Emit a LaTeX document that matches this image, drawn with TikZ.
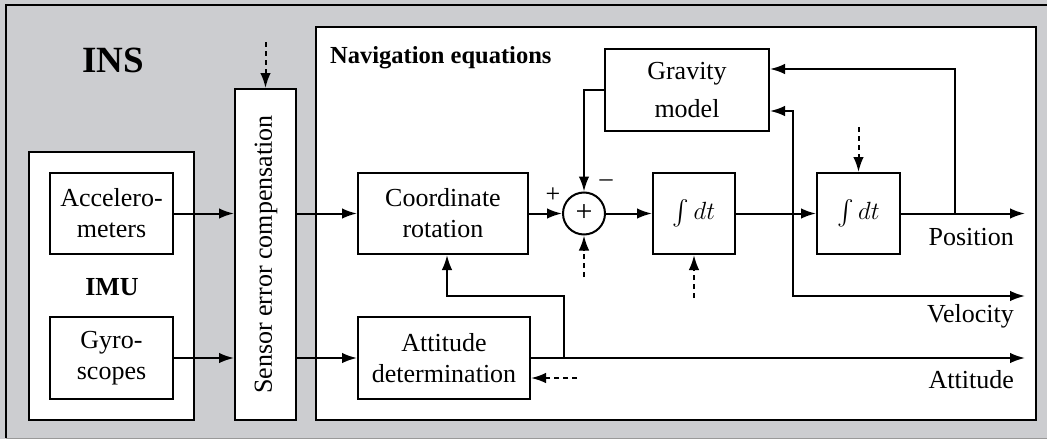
\documentclass[tikz,border=0pt]{standalone}
\usepackage{amsmath}
\usepackage{fontspec}
\setmainfont{Liberation Serif}
\usetikzlibrary{arrows.meta,calc}
\definecolor{insgray}{RGB}{204,205,208}
\tikzset{
  blk/.style={draw, line width=2pt, fill=white, inner sep=0pt, align=center,
    font=\fontsize{26}{31}\selectfont},
  arr/.style={line width=2pt, -{Latex[length=15pt,width=10.5pt]}},
  darr/.style={line width=2pt, dash pattern=on 5pt off 4pt, -{Latex[length=15pt,width=10.5pt]}},
  lbl/.style={inner sep=0pt, font=\fontsize{26}{31}\selectfont},
}
\begin{document}
\begin{tikzpicture}[x=1pt,y=-1pt]
\useasboundingbox (0,0) rectangle (1047,439);
% INS background
\fill[insgray] (0,0) rectangle (1047,439);
\draw[line width=2pt] (1060,5) -- (6,5) -- (6,438);
\draw[line width=0.8pt, black!40] (6,438.5) -- (1060,438.5);
\node[inner sep=0pt, font=\fontsize{37}{40}\selectfont\bfseries] (ins) at (113,60) {INS};
% IMU
\node[draw, line width=2pt, fill=white, minimum width=165pt, minimum height=268pt, inner sep=0pt] (imu) at (111.5,286) {};
\node[inner sep=0pt, font=\fontsize{26}{31}\selectfont\bfseries] (imul) at (112,287) {IMU};
\node[blk, minimum width=123pt, minimum height=81pt] (acc) at (111.5,213.5) {Accelero-\\meters};
\node[blk, minimum width=123pt, minimum height=82pt] (gyr) at (111.5,358) {Gyro-\\scopes};
% Sensor error compensation
\node[blk, minimum width=61pt, minimum height=331pt] (sec) at (265.5,254.5) {};
\node[lbl, rotate=90] (secl) at (266,254.5) {Sensor error compensation};
% Navigation equations frame
\node[draw, line width=2pt, fill=white, minimum width=720pt, minimum height=393pt, inner sep=0pt] (nav) at (676,223.5) {};
\node[inner sep=0pt, anchor=west, font=\fontsize{24.5}{28}\selectfont\bfseries] (navl) at (330,58) {Navigation equations};
% blocks
\node[blk, minimum width=164pt, minimum height=82pt, font=\fontsize{26}{38}\selectfont] (grav) at (687,90) {Gravity\\model};
\node[blk, minimum width=170pt, minimum height=81pt] (cr) at (443,213.5) {Coordinate\\rotation};
\node[blk, minimum width=172pt, minimum height=82pt] (att) at (444,358) {Attitude\\determination};
\node[blk, minimum width=82pt, minimum height=81pt] (i1) at (694,213.5) {$\int dt$};
\node[blk, minimum width=83pt, minimum height=81pt] (i2) at (858.5,213.5) {$\int dt$};
\node[draw, circle, line width=2pt, fill=white, minimum size=42pt, inner sep=0pt, font=\fontsize{30}{30}\selectfont] (sum) at (584,213.5) {+};
\node[lbl] (plus) at (553,195) {+};
\node[lbl] (minus) at (606,183) {\textendash};
% output labels
\node[lbl, anchor=east] (posl) at (1014,237) {Position};
\node[lbl, anchor=east] (vell) at (1014,316) {Velocity};
\node[lbl, anchor=east] (attl) at (1014,380) {Attitude};
% coordinates
\coordinate (posend) at (1025,213.5);
\coordinate (pj) at (955,213.5);
\coordinate (vj) at (793,213.5);
\coordinate (velend) at (1025,296);
\coordinate (attend) at (1025,358);
\coordinate (aj) at (564,358);
\coordinate (ab) at (564,296);
\coordinate (d1) at (265.5,42);
\coordinate (d2) at (584,277);
\coordinate (d3) at (694,298);
\coordinate (d4) at (858.5,127);
\coordinate (d5) at (577,378);
% connectors
\draw[arr] (acc.east) -- (acc.east -| sec.west);
\draw[arr] (sec.east |- acc.east) -- (cr.west);
\draw[arr] (gyr.east) -- (gyr.east -| sec.west);
\draw[arr] (sec.east |- gyr.east) -- (att.west);
\draw[arr] (cr.east) -- (sum.west);
\draw[arr] (sum.east) -- (i1.west);
\draw[arr] (i1.east) -- (i2.west);
\draw[arr] (i2.east) -- (posend);
\draw[arr] (pj) |- ([yshift=21pt]grav.east);
\draw[arr] (vj) |- ([yshift=-21pt]grav.east);
\draw[arr] (vj) |- (velend);
\draw[arr] (grav.west) -| (sum.north);
\draw[arr] (att.east) -- (attend);
\draw[arr] (aj) -- (ab) -| ([xshift=4pt]cr.south);
% dashed inputs
\draw[darr] (d1) -- (sec.north);
\draw[darr] (d2) -- (sum.south);
\draw[darr] (d3) -- (i1.south);
\draw[darr] (d4) -- (i2.north);
\draw[darr] (d5) -- (d5 -| att.east);
\end{tikzpicture}
\end{document}
